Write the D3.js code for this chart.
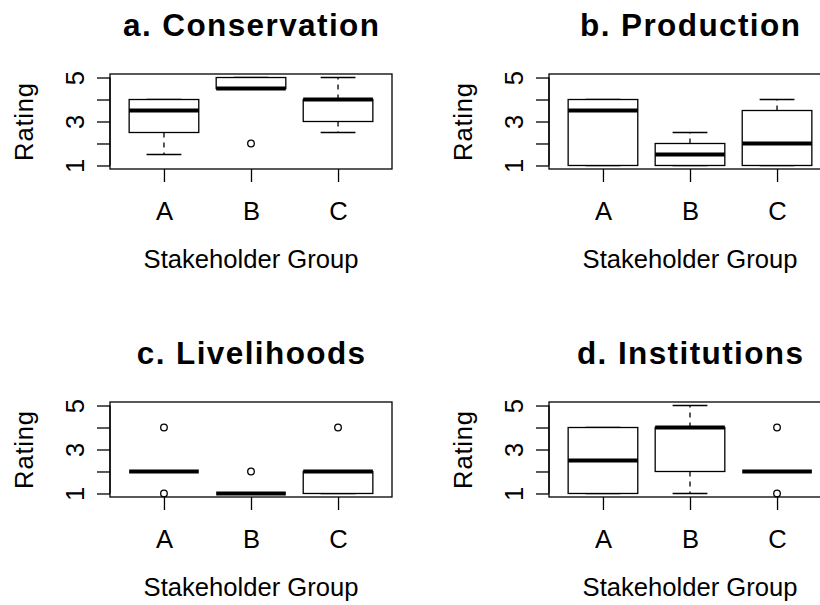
<!DOCTYPE html>
<html>
<head>
<meta charset="utf-8">
<script src="https://cdn.jsdelivr.net/npm/d3@7"></script>
<style>
  body { margin: 0; background: #fff; }
  svg { display: block; font-family: "Liberation Sans", Arial, sans-serif; }
</style>
</head>
<body>
<div id="chart"></div>
<script>
// categories and panel titles
var groups = ["A", "B", "C"];
var titles = ["a. Conservation", "b. Production", "c. Livelihoods", "d. Institutions"];
var yTicks = [1, 2, 3, 4, 5];

// box stats per group: [lower whisker, Q1, median, Q3, upper whisker]
var conservation = [[1.5, 2.5, 3.5, 4, 4], [4.5, 4.5, 4.5, 5, 5], [2.5, 3, 4, 4, 5]];
var production   = [[1, 1, 3.5, 4, 4], [1, 1, 1.5, 2, 2.5], [1, 1, 2, 3.5, 4]];
var livelihoods  = [[2, 2, 2, 2, 2], [1, 1, 1, 1, 1], [1, 1, 2, 2, 2]];
var institutions = [[1, 1, 2.5, 4, 4], [1, 2, 4, 4, 5], [2, 2, 2, 2, 2]];

// outlying points per group
var conservationOut = [[], [2], []];
var productionOut   = [[], [], []];
var livelihoodsOut  = [[4, 1], [2], [4]];
var institutionsOut = [[], [], [4, 1]];

var panels = [
  { title: titles[0], stats: conservation, out: conservationOut, x: 110, y: 74 },
  { title: titles[1], stats: production,   out: productionOut,   x: 549, y: 74 },
  { title: titles[2], stats: livelihoods,  out: livelihoodsOut,  x: 110, y: 402 },
  { title: titles[3], stats: institutions, out: institutionsOut, x: 549, y: 402 }
];

var svgWidth = 820, svgHeight = 605;
var width = 282, height = 95;

var svg = d3.select("#chart").append("svg")
  .attr("width", svgWidth)
  .attr("height", svgHeight);

// same scales for every panel (R style 4% padding)
var xScale = d3.scalePoint().domain(groups).range([0, width]).padding(0.62);
var yScale = d3.scaleLinear().domain([0.84, 5.16]).range([height, 0]);
var boxW = xScale.step() * 0.8;

panels.forEach(function(p) {
  var g = svg.append("g").attr("transform", `translate(${p.x}, ${p.y})`);

  // title
  g.append("text")
    .attr("x", width / 2 + 0.7)
    .attr("y", -38.5)
    .attr("text-anchor", "middle")
    .attr("font-size", "31.5px")
    .attr("font-weight", "bold")
    .attr("letter-spacing", "1.4px")
    .text(p.title);

  // y axis
  var yAxis = g.append("g")
    .call(d3.axisLeft(yScale).tickValues(yTicks).tickSize(13).tickSizeOuter(0)
      .tickFormat(function(d) { return d % 2 ? d : ""; }));
  yAxis.select(".domain").remove();
  yAxis.selectAll("line").attr("stroke", "#000").attr("stroke-width", 1.3);
  yAxis.selectAll("text")
    .attr("transform", "rotate(-90)")
    .attr("x", 0).attr("y", -26.5).attr("dy", 0)
    .attr("text-anchor", "middle")
    .attr("font-size", "25.6px")
    .attr("font-family", "Liberation Sans, Arial, sans-serif")
    .attr("fill", "#000");
  g.append("line")
    .attr("x1", 0).attr("x2", 0)
    .attr("y1", yScale(1)).attr("y2", yScale(5))
    .attr("stroke", "#000").attr("stroke-width", 1.3);

  // x axis
  var xAxis = g.append("g")
    .attr("transform", `translate(0, ${height})`)
    .call(d3.axisBottom(xScale).tickSize(13).tickSizeOuter(0));
  xAxis.select(".domain").remove();
  xAxis.selectAll("line").attr("stroke", "#000").attr("stroke-width", 1.3);
  xAxis.selectAll("text")
    .attr("y", 51).attr("dy", 0)
    .attr("font-size", "25.6px")
    .attr("font-family", "Liberation Sans, Arial, sans-serif")
    .attr("fill", "#000");

  // axis titles
  g.append("text")
    .attr("x", width / 2)
    .attr("y", height + 99)
    .attr("text-anchor", "middle")
    .attr("font-size", "25.6px")
    .text("Stakeholder Group");
  g.append("text")
    .attr("transform", "rotate(-90)")
    .attr("x", -height / 2)
    .attr("y", -76.7)
    .attr("text-anchor", "middle")
    .attr("font-size", "25.6px")
    .attr("letter-spacing", "0.8px")
    .text("Rating");

  // boxes
  p.stats.forEach(function(s, i) {
    var cx = xScale(groups[i]);
    var bg = g.append("g").attr("stroke", "#000").attr("fill", "none");
    // whiskers
    bg.append("line").attr("x1", cx).attr("x2", cx)
      .attr("y1", yScale(s[1])).attr("y2", yScale(s[0]))
      .attr("stroke-width", 1.3).attr("stroke-dasharray", "5,5");
    bg.append("line").attr("x1", cx).attr("x2", cx)
      .attr("y1", yScale(s[3])).attr("y2", yScale(s[4]))
      .attr("stroke-width", 1.3).attr("stroke-dasharray", "5,5");
    // staples
    [s[0], s[4]].forEach(function(v) {
      bg.append("line")
        .attr("x1", cx - boxW / 4).attr("x2", cx + boxW / 4)
        .attr("y1", yScale(v)).attr("y2", yScale(v))
        .attr("stroke-width", 1.3);
    });
    // box
    bg.append("rect")
      .attr("x", cx - boxW / 2)
      .attr("y", yScale(s[3]))
      .attr("width", boxW)
      .attr("height", yScale(s[1]) - yScale(s[3]))
      .attr("fill", "#fff")
      .attr("stroke-width", 1.3);
    // median
    bg.append("line")
      .attr("x1", cx - boxW / 2).attr("x2", cx + boxW / 2)
      .attr("y1", yScale(s[2])).attr("y2", yScale(s[2]))
      .attr("stroke-width", 4);
    // outliers
    p.out[i].forEach(function(v) {
      bg.append("circle")
        .attr("cx", cx).attr("cy", yScale(v))
        .attr("r", 3.3)
        .attr("fill", "none")
        .attr("stroke-width", 1.3);
    });
  });

  // plot frame
  g.append("rect")
    .attr("width", width).attr("height", height)
    .attr("fill", "none")
    .attr("stroke", "#000")
    .attr("stroke-width", 1.3);
});
</script>
</body>
</html>
